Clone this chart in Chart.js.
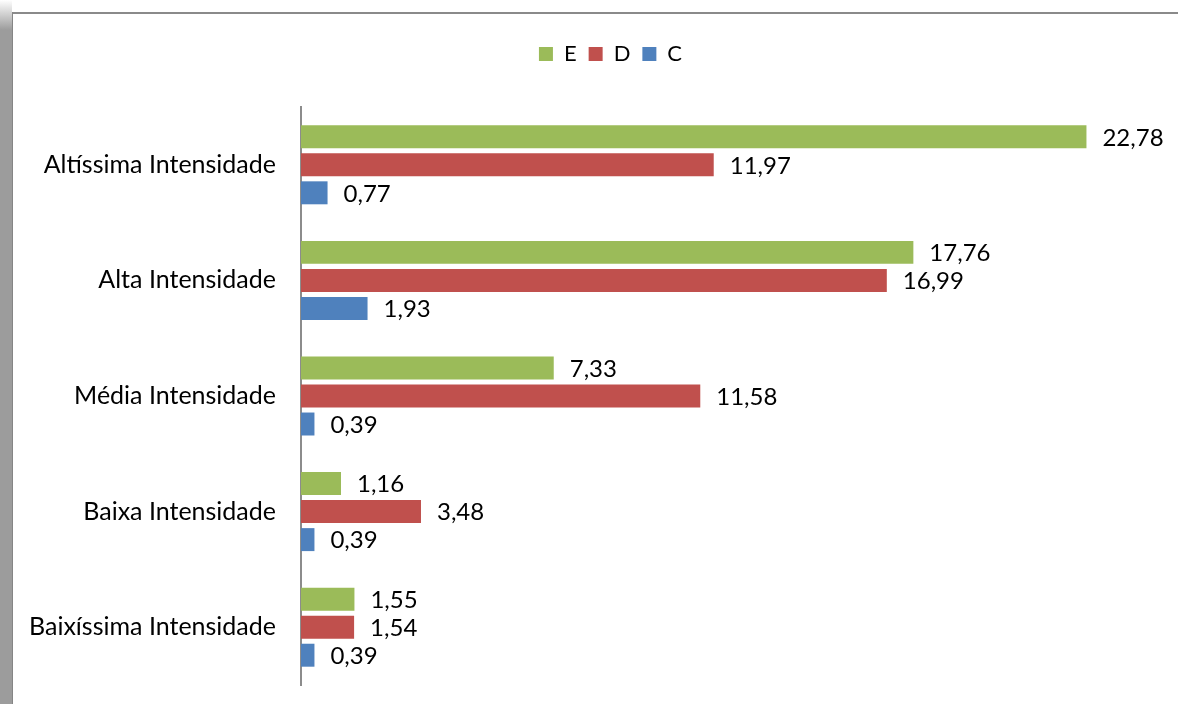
<!DOCTYPE html>
<html>
<head>
<meta charset="utf-8">
<script src="https://cdn.jsdelivr.net/npm/chart.js@4.4.1/dist/chart.umd.min.js"></script>
<style>
  html, body { margin: 0; padding: 0; background: #fff; }
  body { width: 1178px; height: 704px; position: relative; overflow: hidden; }
  .band { position: absolute; left: 0; top: 0; width: 12px; height: 704px;
          background: linear-gradient(to bottom, #fff 0px, #9c9c9c 30px, #9c9c9c 100%); }
  .topline { position: absolute; left: 12px; top: 12px; right: 0; height: 2px; background: #8a8a8a; }
  .leftline { position: absolute; left: 12px; top: 12px; width: 1px; bottom: 0; background: #858585; }
  #wrap { position: absolute; left: 0; top: 0; width: 1178px; height: 704px; }
</style>
</head>
<body>
<div class="band"></div>
<div class="topline"></div>
<div class="leftline"></div>
<div id="wrap"><canvas id="barChart" width="1178" height="704"></canvas></div>
<script>
var categories = ['Altíssima Intensidade', 'Alta Intensidade', 'Média Intensidade', 'Baixa Intensidade', 'Baixíssima Intensidade'];
var seriesE = [22.78, 17.76, 7.33, 1.16, 1.55];
var seriesD = [11.97, 16.99, 11.58, 3.48, 1.54];
var seriesC = [0.77, 1.93, 0.39, 0.39, 0.39];

var FONT = 'Lato';

// value labels to the right of each bar, with comma decimals
var valueLabels = {
  id: 'valueLabels',
  afterDatasetsDraw: function (chart) {
    var ctx = chart.ctx;
    ctx.save();
    ctx.font = '24px ' + FONT;
    ctx.fillStyle = '#000';
    ctx.textAlign = 'left';
    ctx.textBaseline = 'middle';
    chart.data.datasets.forEach(function (ds, i) {
      chart.getDatasetMeta(i).data.forEach(function (bar, j) {
        var txt = ds.data[j].toFixed(2).replace('.', ',');
        ctx.fillText(txt, bar.x + 16, bar.y + 1);
      });
    });
    ctx.restore();
  }
};

// extra room under the legend, and nudge it right like the original
var legendTweak = {
  id: 'legendTweak',
  beforeInit: function (chart) {
    var lg = chart.legend;
    if (!lg) return;
    var fit = lg.fit;
    lg.fit = function () {
      fit.call(this);
      this.height += 32;
    };
    var draw = lg.draw;
    lg.draw = function () {
      var ctx = this.ctx;
      ctx.save();
      ctx.translate(29, 0);
      draw.call(this);
      ctx.restore();
    };
  }
};

new Chart(document.getElementById('barChart'), {
  type: 'bar',
  data: {
    labels: categories,
    datasets: [
      { label: 'E', data: seriesE, backgroundColor: '#9bbb59' },
      { label: 'D', data: seriesD, backgroundColor: '#c0504d' },
      { label: 'C', data: seriesC, backgroundColor: '#4f81bd' }
    ]
  },
  options: {
    indexAxis: 'y',
    responsive: false,
    animation: false,
    devicePixelRatio: 1,
    categoryPercentage: 0.727,
    barPercentage: 0.82,
    layout: { padding: { top: 31, right: 15, bottom: 19, left: 0 } },
    plugins: {
      legend: {
        position: 'top',
        labels: {
          font: { family: FONT, size: 22 },
          color: '#000',
          boxWidth: 14,
          boxHeight: 14,
          padding: 12
        }
      },
      tooltip: { enabled: false }
    },
    scales: {
      x: {
        display: false,
        min: 0,
        max: 25
      },
      y: {
        grid: { display: false, drawTicks: false },
        border: { display: true, color: '#8c8c8c', width: 2 },
        ticks: {
          font: { family: FONT, size: 25 },
          color: '#000',
          padding: 25
        },
        afterFit: function (scale) {
          scale.width = 301;
          scale.paddingTop = 0;
          scale.paddingBottom = 0;
        }
      }
    }
  },
  plugins: [valueLabels, legendTweak]
});
</script>
</body>
</html>
